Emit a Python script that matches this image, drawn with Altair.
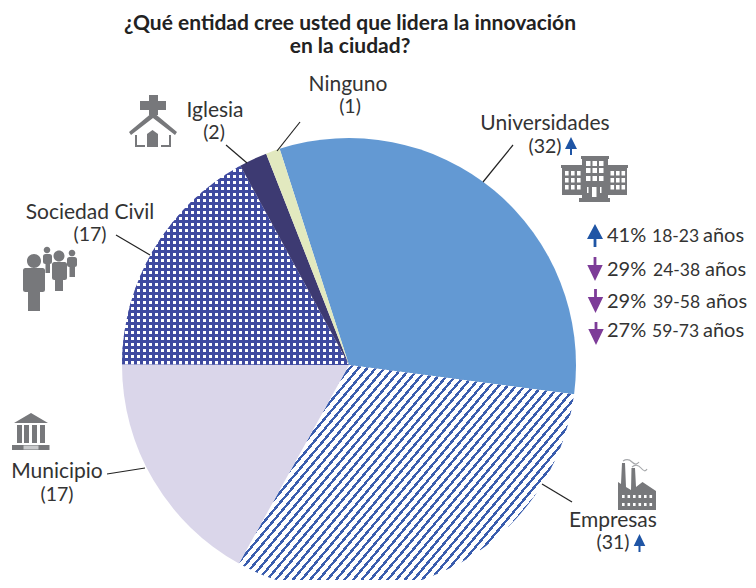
import math
import altair as alt
import pandas as pd

# ---- data ----
CATEGORIES = ["Universidades", "Empresas", "Municipio", "Sociedad Civil", "Iglesia", "Ninguno"]
VALUES = [32, 31, 17, 17, 2, 1]
TITLE_LINES = ["¿Qué entidad cree usted que lidera la innovación", "en la ciudad?"]
COUNT_LABELS = ["(32)", "(31)", "(17)", "(17)", "(2)", "(1)"]
AGE_PCT = ["41%", "29%", "29%", "27%"]
AGE_RANGE = ["18-23", "24-38", "39-58", "59-73"]
AGE_WORD = ["años", "años", "años", "años"]

FONT = "Lato"
INK = "#333333"
GRAY = "#77787B"
BLUE = "#1F55A5"
PURPLE = "#7D3C98"
NAVY = "#3F4AA0"
HATCH = "#3A5DAE"
CX, CY, R = 349.0, 365.0, 227.0
START = 342.2
W, H = 740, 572

cum = [0]
for v in VALUES:
    cum.append(cum[-1] + v)
TOTAL = cum[-1]
pie = pd.DataFrame({"cat": CATEGORIES, "a": cum[:-1], "b": cum[1:]})


def bbox(i):
    a0 = START + cum[i] / TOTAL * 360
    a1 = START + cum[i + 1] / TOTAL * 360
    pts = [(0.0, 0.0)]
    angs = [a0, a1] + [k * 90 for k in range(0, 10) if a0 < k * 90 < a1]
    for a in angs:
        t = math.radians(a)
        pts.append((R * math.sin(t), -R * math.cos(t)))
    xs = [p[0] for p in pts]
    ys = [p[1] for p in pts]
    return max(xs) - min(xs), max(ys) - min(ys)


def stripes(i, angle, period, ink, color, gap):
    w, h = bbox(i)
    nx, ny = math.sin(math.radians(angle)), math.cos(math.radians(angle))
    extent = w * nx + h * ny
    k = extent / (w * w * nx * nx + h * h * ny * ny)
    stops = []
    n = int(extent / period) + 1
    for j in range(n):
        p0 = j * period / extent
        p1 = (j * period + ink) / extent
        p2 = (j + 1) * period / extent
        if p0 > 1:
            break
        stops += [
            {"offset": min(p0, 1), "color": color},
            {"offset": min(p1, 1), "color": color},
            {"offset": min(p1, 1), "color": gap},
            {"offset": min(p2, 1), "color": gap},
        ]
    return {"gradient": "linear", "x1": 0, "y1": 0, "x2": w * nx * k, "y2": h * ny * k, "stops": stops}


theta = alt.Theta("a:Q", scale=alt.Scale(domain=[0, TOTAL], range=[math.radians(START), math.radians(START + 360)]))
theta2 = alt.Theta2("b:Q")
CLEAR = "rgba(255,255,255,0)"


def slice_layer(name, fill):
    return (
        alt.Chart(pie)
        .transform_filter(alt.datum.cat == name)
        .mark_arc(outerRadius=R, innerRadius=0, fill=fill, stroke=None)
        .encode(theta=theta, theta2=theta2, x=alt.value(CX - 8), y=alt.value(CY - 8))
    )


layers = [
    slice_layer("Universidades", "#6399D3"),
    slice_layer("Empresas", stripes(1, 50, 6.6, 2.4, HATCH, "#FFFFFF")),
    slice_layer("Municipio", "#DAD6EA"),
    slice_layer("Sociedad Civil", "#FFFFFF"),
    slice_layer("Sociedad Civil", stripes(3, 90, 6.0, 3.4, NAVY, CLEAR)),
    slice_layer("Sociedad Civil", stripes(3, 0, 6.0, 3.4, NAVY, CLEAR)),
    slice_layer("Iglesia", "#3D3A72"),
    slice_layer("Ninguno", "#E2E9BF"),
]

# ---- leader lines ----
LEADERS = [
    (300, 122, 277, 151), (226, 145, 247, 163), (116, 235, 150, 255),
    (513, 145, 483, 182), (542, 484, 572, 502), (107, 474, 145, 468),
]
for x0, y0, x1, y1 in LEADERS:
    layers.append(
        alt.Chart(pd.DataFrame({"k": [0]}))
        .mark_rule(color="#222222", strokeWidth=1.2)
        .encode(x=alt.value(x0 - 8), y=alt.value(y0 - 8), x2=alt.value(x1 - 8), y2=alt.value(y1 - 8))
    )


# ---- icons (paths in page pixels) ----
def rect(x0, y0, x1, y1):
    return f"M{x0},{y0}L{x1},{y0}L{x1},{y1}L{x0},{y1}Z"


def hole(x0, y0, x1, y1):
    return f"M{x0},{y0}L{x0},{y1}L{x1},{y1}L{x1},{y0}Z"


def circle(x, y, r):
    return f"M{x - r},{y}A{r},{r} 0 1 1 {x + r},{y}A{r},{r} 0 1 1 {x - r},{y}Z"


def rrect(x0, y0, x1, y1, r):
    return (f"M{x0 + r},{y0}L{x1 - r},{y0}Q{x1},{y0} {x1},{y0 + r}L{x1},{y1 - r}Q{x1},{y1} {x1 - r},{y1}"
            f"L{x0 + r},{y1}Q{x0},{y1} {x0},{y1 - r}L{x0},{y0 + r}Q{x0},{y0} {x0 + r},{y0}Z")


def person(hx, hy, hr, b0, b1, by0, by1, l0, l1, ly1):
    return circle(hx, hy, hr) + rrect(b0, by0, b1, by1, 2.5) + rect(l0, by1 - 3, l1, ly1)


church = (
    rect(149, 95, 158, 115) + rect(140, 101, 166, 110)
    + "M129,132L153,112L177,132L175,135L153,118L131,135Z"
    + "M135,135L137,135L137,145L145,145L145,147L135,147Z"
    + "M171,135L169,135L169,145L161,145L161,147L171,147Z"
    + "M147,147L147,134L152.5,130L158,134L158,147Z"
)
people = (
    person(34, 261, 7, 23, 45, 268, 292, 28, 40, 311)
    + person(59, 256, 5.5, 52, 67, 262, 280, 55, 63, 291)
    + person(47, 250, 3.3, 43, 52, 254, 264, 45.5, 50, 273)
    + person(72, 253, 3.3, 67, 77, 257, 267, 69.5, 75, 277)
)
building = rect(581, 156, 609, 159) + rect(582, 159, 608, 198) + rect(579, 198, 610, 202) \
    + rect(561, 165, 582, 168) + rect(562, 168, 582, 195) + rect(608, 165, 628, 168) + rect(608, 168, 627, 195)
for cx0 in (586, 592.5, 599):
    for cy0 in (161, 168, 176):
        building += hole(cx0, cy0, cx0 + 4.5, cy0 + 5)
for cx0 in (565, 571, 577):
    for cy0 in (171, 178, 185):
        building += hole(cx0, cy0, cx0 + 3.6, cy0 + 4.6)
for cx0 in (610.5, 616, 621.5):
    for cy0 in (171, 178, 185):
        building += hole(cx0, cy0, cx0 + 3.6, cy0 + 4.6)
building += hole(592, 187, 596.5, 197) + hole(587, 187, 588.5, 193) + hole(600, 187, 601.5, 193)
factory = ("M618,510L618,482L621,484L622,463L625,463L626,487L631,490L631.5,468L635,468L636,487"
           "L642.5,482L656,491L656,510Z")
for cx0 in (622, 627.5, 633, 638.5, 644, 649.5):
    for cy0 in (495, 503):
        factory += hole(cx0, cy0, cx0 + 2.6, cy0 + 3)
bank = "M14,423L31,413L48,423Z" + rect(17, 425, 22, 443) + rect(24, 425, 29, 443) + rect(32, 425, 37, 443) \
    + rect(40, 425, 45, 443) + rect(12, 445, 49.5, 450)

for path in (church, people, building, factory, bank):
    layers.append(
        alt.Chart(pd.DataFrame({"k": [0]}))
        .mark_point(shape=path, filled=True, fill=GRAY, opacity=1, size=4, stroke=None)
        .encode(x=alt.value(-8), y=alt.value(-8))
    )

# smoke
layers.append(
    alt.Chart(pd.DataFrame({"k": [0]}))
    .mark_point(shape="M623,461Q628,458 632,462T639,462M632,467Q637,463 641,468T647,469",
                filled=False, fill=None, stroke="#A7A9AC", strokeWidth=1.2, opacity=1, size=4)
    .encode(x=alt.value(-8), y=alt.value(-8))
)
# lighter step of the bank base
layers.append(
    alt.Chart(pd.DataFrame({"k": [0]}))
    .mark_point(shape=rect(23.5, 445.5, 38.5, 449.5), filled=True, fill="#C9CACC", opacity=1, size=4, stroke=None)
    .encode(x=alt.value(-8), y=alt.value(-8))
)


# ---- arrows ----
def arrow_up(x, apex, base, low, hw, sw):
    return (f"M{x},{apex}L{x + hw},{base}L{x + sw},{base}L{x + sw},{low}L{x - sw},{low}L{x - sw},{base}L{x - hw},{base}Z")


def arrow_down(x, top, base, apex, hw, sw):
    return (f"M{x},{apex}L{x + hw},{base}L{x + sw},{base}L{x + sw},{top}L{x - sw},{top}L{x - sw},{base}L{x - hw},{base}Z")


blue_path = arrow_up(595, 224, 239, 247, 8, 1.4) + arrow_up(571, 137, 149, 155, 6, 1) + arrow_up(639.5, 534, 546, 552, 5.8, 1)
purple_path = arrow_down(595, 257, 265, 281, 7.7, 1.4) + arrow_down(595.5, 289, 297, 313, 7.7, 1.4) + arrow_down(596, 322, 329, 345, 7.7, 1.4)
for p, c in ((blue_path, BLUE), (purple_path, PURPLE)):
    layers.append(
        alt.Chart(pd.DataFrame({"k": [0]}))
        .mark_point(shape=p, filled=True, fill=c, opacity=1, size=4, stroke=None)
        .encode(x=alt.value(-8), y=alt.value(-8))
    )

# ---- text ----
NAME_POS = [(545, 130), (613, 527), (57, 478), (90, 219), (215, 117), (348, 91)]
COUNT_POS = [(545, 153), (613, 549), (57, 501), (90, 241), (214, 139), (350, 113)]
PCT_POS = [(607, 242), (607, 276), (607, 308), (607, 337)]
RANGE_POS = [(652, 242), (653, 276), (653, 308), (652, 337)]
WORD_POS = [(703, 242), (705, 276), (706, 308), (703, 337)]
TITLE_POS = [(350, 30), (350, 53)]


def text_layer(texts, pos, align, size=21, weight="normal", color=INK):
    df = pd.DataFrame({"t": texts, "x": [p[0] - 8 for p in pos], "y": [p[1] - 8 for p in pos]})
    return (
        alt.Chart(df)
        .mark_text(font=FONT, fontSize=size, fontWeight=weight, align=align, baseline="alphabetic", color=color)
        .encode(
            x=alt.X("x:Q", scale=None, axis=None),
            y=alt.Y("y:Q", scale=None, axis=None),
            text="t:N",
        )
    )


layers += [
    text_layer(CATEGORIES, NAME_POS, "center"),
    text_layer(COUNT_LABELS, COUNT_POS, "center", size=19.5),
    text_layer(AGE_PCT, PCT_POS, "left", size=20),
    text_layer(AGE_RANGE, RANGE_POS, "left", size=17.5),
    text_layer(AGE_WORD, WORD_POS, "left", size=20),
    text_layer(TITLE_LINES, TITLE_POS, "center", size=21, weight="bold", color="#222222"),
]

chart = (
    alt.layer(*layers)
    .properties(width=W, height=H, padding=0, autosize=alt.AutoSizeParams(type="none"), background="white")
    .configure_view(stroke=None)
)
chart.save("out.html", embed_options={"renderer": "svg", "actions": False})
